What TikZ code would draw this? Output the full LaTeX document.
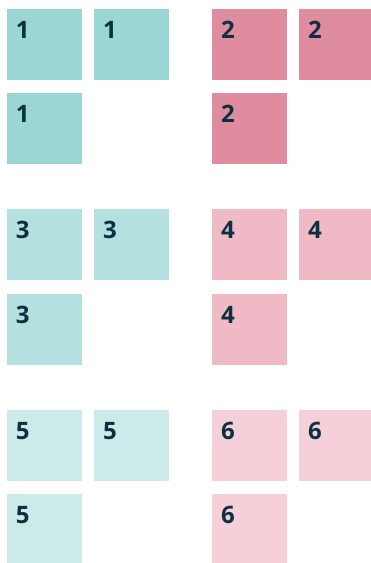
\documentclass[tikz,border=0pt]{standalone}
\usepackage{fontspec}
\setmainfont{Open Sans}
\usetikzlibrary{positioning}
\definecolor{tealdeep}{HTML}{9AD7D4}
\definecolor{tealmid}{HTML}{B4E0E0}
\definecolor{teallight}{HTML}{CDEAEA}
\definecolor{rosedeep}{HTML}{DF8C9E}
\definecolor{rosemid}{HTML}{EFBAC6}
\definecolor{roselight}{HTML}{F6D0D9}
\definecolor{numdark}{HTML}{0C3040}

\begin{document}
\begin{tikzpicture}[x=1pt,y=-1pt,
  tile/.style={rectangle,anchor=north west,inner xsep=9pt,inner ysep=12pt,
               outer sep=0pt,text width=57pt,text height=17pt,text depth=30pt,
               align=left,font=\bfseries\fontsize{24}{24}\selectfont,
               text=numdark},
  gap/.style={node distance=12pt and 12pt}
]
  \useasboundingbox (0,0) rectangle (370,563);

  % ---- Group 1 (teal, top left) ------------------------------
  \node[tile,fill=tealdeep] (t1a) at (7,9) {1};
  \node[tile,fill=tealdeep,right=12pt of t1a.north east,anchor=north west] (t1b) {1};
  \node[tile,fill=tealdeep,below=13pt of t1a.south west,anchor=north west] (t1c) {1};

  % ---- Group 2 (rose, top right) -----------------------------
  \node[tile,fill=rosedeep] (t2a) at (212,9) {2};
  \node[tile,fill=rosedeep,right=12pt of t2a.north east,anchor=north west] (t2b) {2};
  \node[tile,fill=rosedeep,below=13pt of t2a.south west,anchor=north west] (t2c) {2};

  % ---- Group 3 (teal, middle left) ---------------------------
  \node[tile,fill=tealmid] (t3a) at (7,209) {3};
  \node[tile,fill=tealmid,right=12pt of t3a.north east,anchor=north west] (t3b) {3};
  \node[tile,fill=tealmid,below=14pt of t3a.south west,anchor=north west] (t3c) {3};

  % ---- Group 4 (rose, middle right) --------------------------
  \node[tile,fill=rosemid] (t4a) at (212,209) {4};
  \node[tile,fill=rosemid,right=12pt of t4a.north east,anchor=north west] (t4b) {4};
  \node[tile,fill=rosemid,below=14pt of t4a.south west,anchor=north west] (t4c) {4};

  % ---- Group 5 (teal, bottom left) ---------------------------
  \node[tile,fill=teallight] (t5a) at (7,410) {5};
  \node[tile,fill=teallight,right=12pt of t5a.north east,anchor=north west] (t5b) {5};
  \node[tile,fill=teallight,below=13pt of t5a.south west,anchor=north west] (t5c) {5};

  % ---- Group 6 (rose, bottom right) --------------------------
  \node[tile,fill=roselight] (t6a) at (212,410) {6};
  \node[tile,fill=roselight,right=12pt of t6a.north east,anchor=north west] (t6b) {6};
  \node[tile,fill=roselight,below=13pt of t6a.south west,anchor=north west] (t6c) {6};

\end{tikzpicture}
\end{document}
